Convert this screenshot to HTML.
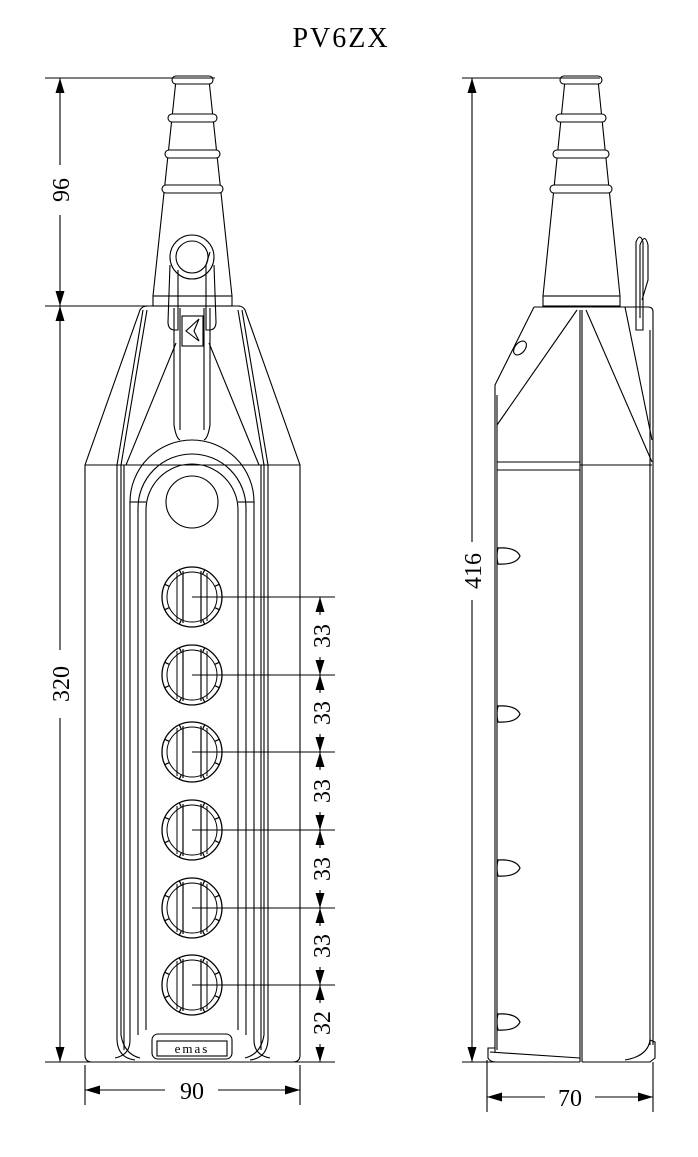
<!DOCTYPE html>
<html><head><meta charset="utf-8"><style>
html,body{margin:0;padding:0;background:#fff;}
svg{display:block;}
text{font-family:"Liberation Serif",serif;fill:#000;}
</style></head><body>
<svg width="698" height="1157" viewBox="0 0 698 1157" xmlns="http://www.w3.org/2000/svg">
<defs>
<marker id="a" viewBox="0 0 10 10" refX="10" refY="5" markerWidth="15" markerHeight="9" markerUnits="userSpaceOnUse" orient="auto-start-reverse" preserveAspectRatio="none"><path d="M0,0 L10,5 L0,10 z" fill="#000"/></marker>
<g id="btn">
<circle r="30" fill="none" stroke="#000" stroke-width="1.3"/>
<circle r="25" fill="none" stroke="#000" stroke-width="1"/>
<g stroke="#000" stroke-width="1.2">
<line x1="0" y1="-30" x2="0" y2="-25" transform="rotate(25)"/>
<line x1="0" y1="-30" x2="0" y2="-25" transform="rotate(-25)"/>
<line x1="0" y1="-30" x2="0" y2="-25" transform="rotate(65)"/>
<line x1="0" y1="-30" x2="0" y2="-25" transform="rotate(-65)"/>
<line x1="0" y1="-30" x2="0" y2="-25" transform="rotate(115)"/>
<line x1="0" y1="-30" x2="0" y2="-25" transform="rotate(-115)"/>
<line x1="0" y1="-30" x2="0" y2="-25" transform="rotate(155)"/>
<line x1="0" y1="-30" x2="0" y2="-25" transform="rotate(-155)"/>
</g>
<line x1="-9" y1="-26" x2="-9" y2="26" stroke="#000" stroke-width="1.2"/>
<line x1="-15" y1="-24" x2="-15" y2="24" stroke="#000" stroke-width="1"/>
<line x1="9" y1="-26" x2="9" y2="26" stroke="#000" stroke-width="1.2"/>
<line x1="15" y1="-24" x2="15" y2="24" stroke="#000" stroke-width="1"/>
</g>
<g id="oval"><path d="M0,-8 Q18,-9 22,0 Q18,9 0,8 Q-2,0 0,-8z" fill="#fff" stroke="#000" stroke-width="1.2"/></g>
</defs>

<text x="341" y="47" font-size="28" text-anchor="middle" letter-spacing="2">PV6ZX</text>

<g fill="none" stroke="#000" stroke-width="1.1">
<path d="M176,80 L153,296 M209,80 L232,296"/>
<rect x="172" y="76" width="41" height="8" rx="4" fill="#fff"/>
<rect x="168" y="114" width="49" height="8" rx="4" fill="#fff"/>
<rect x="165" y="150" width="55" height="8" rx="4" fill="#fff"/>
<rect x="162" y="185" width="61" height="8" rx="4" fill="#fff"/>
<rect x="153" y="296" width="79" height="10"/>
<path d="M148,306 L238,306 Q243,306 245,310 L300,465 L300,1055 Q300,1062 293,1062 L92,1062 Q85,1062 85,1055 L85,465 L140,310 Q142,306 148,306z"/>
<line x1="85" y1="465" x2="300" y2="465"/>
<path d="M143,310 L117,465 L117,1040 Q118,1058 135,1060"/>
<path d="M147,310 L121,465 L121,1035 Q124,1054 140,1058"/>
<path d="M242,310 L268,465 L268,1040 Q267,1058 250,1060"/>
<path d="M238,310 L264,465 L264,1035 Q261,1054 245,1058"/>
<line x1="124" y1="465" x2="124" y2="1050"/>
<line x1="261" y1="465" x2="261" y2="1050"/>
<path d="M176,343 L126,465 M209,343 L259,465"/>
<path d="M130,1040 L130,502 A62,62 0 0 1 254,502 L254,1040 Q254,1055 270,1058"/>
<path d="M130,1040 Q130,1055 115,1058"/>
<path d="M138,1035 L138,508 A54,54 0 0 1 246,508 L246,1035"/>
<path d="M146,1030 L146,510 A46,46 0 0 1 238,510 L238,1030"/>
<line x1="130" y1="502" x2="146" y2="502"/>
<line x1="238" y1="502" x2="254" y2="502"/>
<circle cx="192" cy="502" r="26"/>
<path d="M174,308 L174,425 Q176,438 180,440 M210,308 L210,425 Q208,438 204,440"/>
<path d="M180,308 L180,430 M204,308 L204,430"/>
<rect x="182" y="316" width="21" height="30" fill="#fff"/>
<path d="M199,319 L186,331 L199,341 L194,331 z"/>
<circle cx="192" cy="257" r="22"/>
<circle cx="192" cy="257" r="16"/>
<path d="M170,265 L168,322 Q168,330 175,330 L178,330 L178,270"/>
<path d="M214,265 L216,322 Q216,330 209,330 L206,330 L206,265 L210,252"/>
<use href="#btn" x="192" y="597"/>
<use href="#btn" x="192" y="675"/>
<use href="#btn" x="192" y="752"/>
<use href="#btn" x="192" y="830"/>
<use href="#btn" x="192" y="908"/>
<use href="#btn" x="192" y="985"/>
<rect x="152" y="1034" width="80" height="25" rx="6"/>
<rect x="157" y="1041" width="70" height="15"/>
<text x="192" y="1053" font-size="13" text-anchor="middle" stroke="none" font-family="Liberation Mono" letter-spacing="2">emas</text>

<line x1="45" y1="78" x2="215" y2="78"/>
<line x1="45" y1="306" x2="240" y2="306"/>
<line x1="45" y1="1062" x2="335" y2="1062"/>
<line x1="60" y1="78" x2="60" y2="165" marker-start="url(#a)"/>
<line x1="60" y1="215" x2="60" y2="306" marker-end="url(#a)"/>
<line x1="60" y1="306" x2="60" y2="650" marker-start="url(#a)"/>
<line x1="60" y1="718" x2="60" y2="1062" marker-end="url(#a)"/>
<line x1="85" y1="1065" x2="85" y2="1105"/>
<line x1="300" y1="1065" x2="300" y2="1105"/>
<line x1="85" y1="1090" x2="165" y2="1090" marker-start="url(#a)"/>
<line x1="218" y1="1090" x2="300" y2="1090" marker-end="url(#a)"/>
<line x1="192" y1="597" x2="335" y2="597"/>
<line x1="192" y1="675" x2="335" y2="675"/>
<line x1="192" y1="752" x2="335" y2="752"/>
<line x1="192" y1="830" x2="335" y2="830"/>
<line x1="192" y1="908" x2="335" y2="908"/>
<line x1="192" y1="985" x2="335" y2="985"/>
<line x1="320" y1="597" x2="320" y2="615" marker-start="url(#a)"/>
<line x1="320" y1="657" x2="320" y2="675" marker-end="url(#a)"/>
<line x1="320" y1="675" x2="320" y2="693" marker-start="url(#a)"/>
<line x1="320" y1="734" x2="320" y2="752" marker-end="url(#a)"/>
<line x1="320" y1="752" x2="320" y2="770" marker-start="url(#a)"/>
<line x1="320" y1="812" x2="320" y2="830" marker-end="url(#a)"/>
<line x1="320" y1="830" x2="320" y2="848" marker-start="url(#a)"/>
<line x1="320" y1="890" x2="320" y2="908" marker-end="url(#a)"/>
<line x1="320" y1="908" x2="320" y2="926" marker-start="url(#a)"/>
<line x1="320" y1="967" x2="320" y2="985" marker-end="url(#a)"/>
<line x1="320" y1="985" x2="320" y2="1003" marker-start="url(#a)"/>
<line x1="320" y1="1044" x2="320" y2="1062" marker-end="url(#a)"/>

<path d="M565,80 L543,296 M598,80 L620,296"/>
<rect x="560" y="76" width="42" height="8" rx="4" fill="#fff"/>
<rect x="556" y="114" width="50" height="8" rx="4" fill="#fff"/>
<rect x="553" y="150" width="56" height="8" rx="4" fill="#fff"/>
<rect x="550" y="185" width="62" height="8" rx="4" fill="#fff"/>
<rect x="543" y="296" width="77" height="10"/>
<path d="M534,307 L648,307 Q653,307 653,312 L653,1045"/>
<path d="M534,307 L495,385 L495,1052"/>
<line x1="497" y1="395" x2="497" y2="1050"/>
<line x1="650" y1="330" x2="650" y2="1045"/>
<line x1="580" y1="310" x2="580" y2="1062"/>
<line x1="582" y1="310" x2="582" y2="1062"/>
<path d="M577,310 L497,425 M586,310 L652,462 M625,307 L652,440"/>
<line x1="497" y1="462" x2="580" y2="462"/>
<line x1="497" y1="470" x2="580" y2="470"/>
<line x1="580" y1="465" x2="652" y2="465"/>
<ellipse cx="520" cy="348" rx="5" ry="8" transform="rotate(40 520 348)"/>
<path d="M636,330 L636,242 Q640,232 643,242 L643,330 Z"/>
<path d="M640,318 L640,245 Q645,232 648,245 L648,280 L642,300"/>
<use href="#oval" x="498" y="556"/>
<use href="#oval" x="498" y="714"/>
<use href="#oval" x="498" y="868"/>
<use href="#oval" x="498" y="1022"/>
<path d="M495,1048 L488,1048 L488,1058 Q490,1062 496,1062 L580,1062 M490,1052 L580,1058"/>
<path d="M582,1062 L650,1062 L655,1058 L655,1042 L650,1040 Q648,1056 625,1060"/>
<line x1="462" y1="78" x2="600" y2="78"/>
<line x1="462" y1="1062" x2="495" y2="1062"/>
<line x1="472" y1="78" x2="472" y2="542" marker-start="url(#a)"/>
<line x1="472" y1="600" x2="472" y2="1062" marker-end="url(#a)"/>
<line x1="487" y1="1060" x2="487" y2="1112"/>
<line x1="653" y1="1062" x2="653" y2="1112"/>
<line x1="487" y1="1097" x2="545" y2="1097" marker-start="url(#a)"/>
<line x1="595" y1="1097" x2="653" y2="1097" marker-end="url(#a)"/>
</g>

<g font-size="24">
<text transform="translate(69,190) rotate(-90)" text-anchor="middle">96</text>
<text transform="translate(69,684) rotate(-90)" text-anchor="middle">320</text>
<text transform="translate(481,571) rotate(-90)" text-anchor="middle">416</text>
<text x="192" y="1099" text-anchor="middle">90</text>
<text x="570" y="1106" text-anchor="middle">70</text>
<text transform="translate(330,636) rotate(-90)" text-anchor="middle">33</text>
<text transform="translate(330,713) rotate(-90)" text-anchor="middle">33</text>
<text transform="translate(330,791) rotate(-90)" text-anchor="middle">33</text>
<text transform="translate(330,869) rotate(-90)" text-anchor="middle">33</text>
<text transform="translate(330,946) rotate(-90)" text-anchor="middle">33</text>
<text transform="translate(330,1023) rotate(-90)" text-anchor="middle">32</text>
</g>
</svg>
</body></html>
